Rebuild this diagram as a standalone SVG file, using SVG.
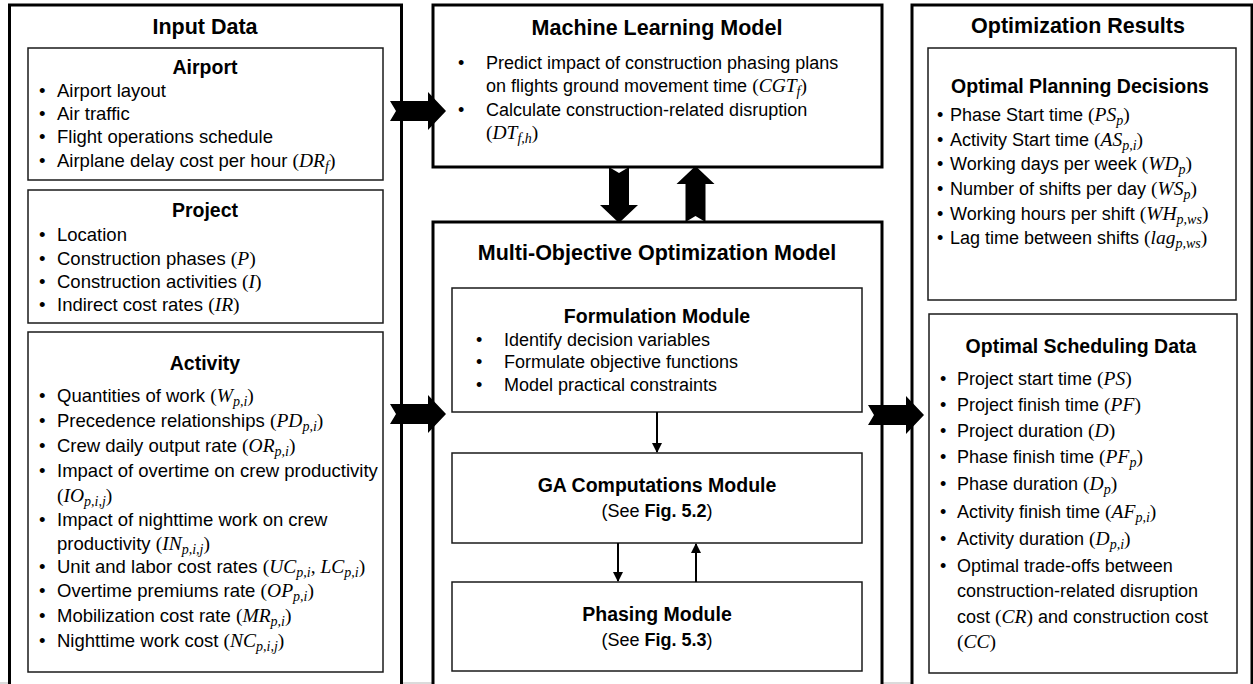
<svg xmlns="http://www.w3.org/2000/svg" width="1253" height="684" viewBox="0 0 1253 684">
  <style>
    text { font-family: "Liberation Sans", Arial, sans-serif; font-size: 18px; fill: #000; }
    .l { font-size: 18.5px; }
    .h { font-size: 21.5px; font-weight: bold; text-anchor: middle; }
    .s { font-size: 19.5px; font-weight: bold; text-anchor: middle; }
    .c { text-anchor: middle; }
    .b { font-weight: bold; }
    .m { font-family: "Liberation Serif", "Times New Roman", serif; font-style: italic; font-size: 19.5px; }
    .p { font-family: "Liberation Serif", "Times New Roman", serif; font-size: 19.5px; }
    .sb { font-family: "Liberation Serif", "Times New Roman", serif; font-style: italic; font-size: 14px; }
    .outer { fill: #fff; stroke: #000; stroke-width: 3; }
    .inner { fill: #fff; stroke: #1a1a1a; stroke-width: 1.5; }
    .thin { stroke: #000; stroke-width: 2; fill: none; marker-end: url(#tip); }
    .blk { fill: #000; }
  </style>
  <defs>
    <marker id="tip" viewBox="0 0 10 10" refX="9" refY="5" markerWidth="6" markerHeight="5" orient="auto" markerUnits="strokeWidth">
      <path d="M0,0 L10,5 L0,10 Z" fill="#000"/>
    </marker>
    <!-- block arrow pointing right, tail at origin -->
    <path id="bigArrow" d="M0,-10 L38,-10 L38,-19 L56,0 L38,19 L38,10 L0,10 L6,0 Z"/>
  </defs>

  <rect width="1253" height="684" fill="#fff"/>
  <line x1="0" y1="683" x2="1253" y2="683" stroke="#cfcfcf" stroke-width="1.5"/>

  <!-- Input data column -->
  <g id="input-data">
    <rect class="outer" x="9.5" y="5" width="392" height="700"/>
    <text class="h" x="205" y="34">Input Data</text>
  </g>
  <g id="airport" class="l">
    <rect class="inner" x="28" y="48" width="355" height="132"/>
    <text class="s" x="205" y="74">Airport</text>
    <text class="l" x="39" y="97">•</text><text class="l" x="57" y="97">Airport layout</text>
    <text class="l" x="39" y="120">•</text><text class="l" x="57" y="120">Air traffic</text>
    <text class="l" x="39" y="143">•</text><text class="l" x="57" y="143">Flight operations schedule</text>
    <text class="l" x="39" y="167">•</text><text class="l" x="57" y="167">Airplane delay cost per hour <tspan class="p">(</tspan><tspan class="m">DR</tspan><tspan class="sb" dy="4">f</tspan><tspan class="p" dy="-4">)</tspan></text>
  </g>
  <g id="project">
    <rect class="inner" x="28" y="190" width="355" height="133"/>
    <text class="s" x="205" y="217">Project</text>
    <text class="l" x="39" y="241">•</text><text class="l" x="57" y="241">Location</text>
    <text class="l" x="39" y="265">•</text><text class="l" x="57" y="265">Construction phases <tspan class="p">(</tspan><tspan class="m">P</tspan><tspan class="p">)</tspan></text>
    <text class="l" x="39" y="288">•</text><text class="l" x="57" y="288">Construction activities <tspan class="p">(</tspan><tspan class="m">I</tspan><tspan class="p">)</tspan></text>
    <text class="l" x="39" y="311">•</text><text class="l" x="57" y="311">Indirect cost rates <tspan class="p">(</tspan><tspan class="m">IR</tspan><tspan class="p">)</tspan></text>
  </g>
  <g id="activity">
    <rect class="inner" x="28" y="332" width="355" height="340"/>
    <text class="s" x="205" y="370">Activity</text>
    <text class="l" x="39" y="402">•</text><text class="l" x="57" y="402">Quantities of work <tspan class="p">(</tspan><tspan class="m">W</tspan><tspan class="sb" dy="4">p,i</tspan><tspan class="p" dy="-4">)</tspan></text>
    <text class="l" x="39" y="427">•</text><text class="l" x="57" y="427">Precedence relationships <tspan class="p">(</tspan><tspan class="m">PD</tspan><tspan class="sb" dy="4">p,i</tspan><tspan class="p" dy="-4">)</tspan></text>
    <text class="l" x="39" y="452">•</text><text class="l" x="57" y="452">Crew daily output rate <tspan class="p">(</tspan><tspan class="m">OR</tspan><tspan class="sb" dy="4">p,i</tspan><tspan class="p" dy="-4">)</tspan></text>
    <text class="l" x="39" y="477">•</text><text class="l" x="57" y="477">Impact of overtime on crew productivity</text>
    <text class="l" x="57" y="502"><tspan class="p">(</tspan><tspan class="m">IO</tspan><tspan class="sb" dy="4">p,i,j</tspan><tspan class="p" dy="-4">)</tspan></text>
    <text class="l" x="39" y="526">•</text><text class="l" x="57" y="526">Impact of nighttime work on crew</text>
    <text class="l" x="57" y="550">productivity <tspan class="p">(</tspan><tspan class="m">IN</tspan><tspan class="sb" dy="4">p,i,j</tspan><tspan class="p" dy="-4">)</tspan></text>
    <text class="l" x="39" y="573">•</text><text class="l" x="57" y="573">Unit and labor cost rates <tspan class="p">(</tspan><tspan class="m">UC</tspan><tspan class="sb" dy="4">p,i</tspan><tspan class="p" dy="-4">, </tspan><tspan class="m">LC</tspan><tspan class="sb" dy="4">p,i</tspan><tspan class="p" dy="-4">)</tspan></text>
    <text class="l" x="39" y="597">•</text><text class="l" x="57" y="597">Overtime premiums rate <tspan class="p">(</tspan><tspan class="m">OP</tspan><tspan class="sb" dy="4">p,i</tspan><tspan class="p" dy="-4">)</tspan></text>
    <text class="l" x="39" y="622">•</text><text class="l" x="57" y="622">Mobilization cost rate <tspan class="p">(</tspan><tspan class="m">MR</tspan><tspan class="sb" dy="4">p,i</tspan><tspan class="p" dy="-4">)</tspan></text>
    <text class="l" x="39" y="647">•</text><text class="l" x="57" y="647">Nighttime work cost <tspan class="p">(</tspan><tspan class="m">NC</tspan><tspan class="sb" dy="4">p,i,j</tspan><tspan class="p" dy="-4">)</tspan></text>
  </g>

  <!-- Machine learning model -->
  <g id="ml-model">
    <rect class="outer" x="433" y="5" width="449" height="162"/>
    <text class="h" x="657" y="35">Machine Learning Model</text>
    <text x="458" y="69">•</text><text x="486" y="69">Predict impact of construction phasing plans</text>
    <text x="486" y="92">on flights ground movement time <tspan class="p">(</tspan><tspan class="m">CGT</tspan><tspan class="sb" dy="4">f</tspan><tspan class="p" dy="-4">)</tspan></text>
    <text x="458" y="116">•</text><text x="486" y="116">Calculate construction-related disruption</text>
    <text x="486" y="139"><tspan class="p">(</tspan><tspan class="m">DT</tspan><tspan class="sb" dy="4">f,h</tspan><tspan class="p" dy="-4">)</tspan></text>
  </g>

  <!-- Multi-objective optimization model and its modules -->
  <g id="moo-model">
    <rect class="outer" x="433" y="222" width="449" height="480"/>
    <text class="h" x="657" y="260">Multi-Objective Optimization Model</text>
  </g>
  <g id="formulation-module">
    <rect class="inner" x="452" y="288" width="410" height="124"/>
    <text class="s" x="657" y="323">Formulation Module</text>
    <text x="476" y="346">•</text><text x="504" y="346">Identify decision variables</text>
    <text x="476" y="368">•</text><text x="504" y="368">Formulate objective functions</text>
    <text x="476" y="391">•</text><text x="504" y="391">Model practical constraints</text>
  </g>
  <g id="ga-module">
    <rect class="inner" x="452" y="453" width="410" height="90"/>
    <text class="s" x="657" y="492">GA Computations Module</text>
    <text class="c" x="657" y="517">(See <tspan class="b">Fig. 5.2</tspan>)</text>
  </g>
  <g id="phasing-module">
    <rect class="inner" x="452" y="582" width="410" height="89"/>
    <text class="s" x="657" y="621">Phasing Module</text>
    <text class="c" x="657" y="646">(See <tspan class="b">Fig. 5.3</tspan>)</text>
  </g>

  <!-- Optimization results column -->
  <g id="optimization-results">
    <rect class="outer" x="912" y="5" width="340" height="700"/>
    <text class="h" x="1078" y="33">Optimization Results</text>
  </g>
  <g id="planning-decisions">
    <rect class="inner" x="928" y="48" width="308" height="252"/>
    <text class="s" x="1080" y="93">Optimal Planning Decisions</text>
    <text x="937" y="121">•</text><text x="950" y="121">Phase Start time <tspan class="p">(</tspan><tspan class="m">PS</tspan><tspan class="sb" dy="4">p</tspan><tspan class="p" dy="-4">)</tspan></text>
    <text x="937" y="146">•</text><text x="950" y="146">Activity Start time <tspan class="p">(</tspan><tspan class="m">AS</tspan><tspan class="sb" dy="4">p,i</tspan><tspan class="p" dy="-4">)</tspan></text>
    <text x="937" y="170">•</text><text x="950" y="170">Working days per week <tspan class="p">(</tspan><tspan class="m">WD</tspan><tspan class="sb" dy="4">p</tspan><tspan class="p" dy="-4">)</tspan></text>
    <text x="937" y="195">•</text><text x="950" y="195">Number of shifts per day <tspan class="p">(</tspan><tspan class="m">WS</tspan><tspan class="sb" dy="4">p</tspan><tspan class="p" dy="-4">)</tspan></text>
    <text x="937" y="220">•</text><text x="950" y="220">Working hours per shift <tspan class="p">(</tspan><tspan class="m">WH</tspan><tspan class="sb" dy="4">p,ws</tspan><tspan class="p" dy="-4">)</tspan></text>
    <text x="937" y="244">•</text><text x="950" y="244">Lag time between shifts <tspan class="p">(</tspan><tspan class="m">lag</tspan><tspan class="sb" dy="4">p,ws</tspan><tspan class="p" dy="-4">)</tspan></text>
  </g>
  <g id="scheduling-data">
    <rect class="inner" x="929" y="314" width="308" height="359"/>
    <text class="s" x="1081" y="353">Optimal Scheduling Data</text>
    <text x="940" y="385">•</text><text x="957" y="385">Project start time <tspan class="p">(</tspan><tspan class="m">PS</tspan><tspan class="p">)</tspan></text>
    <text x="940" y="411">•</text><text x="957" y="411">Project finish time <tspan class="p">(</tspan><tspan class="m">PF</tspan><tspan class="p">)</tspan></text>
    <text x="940" y="437">•</text><text x="957" y="437">Project duration <tspan class="p">(</tspan><tspan class="m">D</tspan><tspan class="p">)</tspan></text>
    <text x="940" y="463">•</text><text x="957" y="463">Phase finish time <tspan class="p">(</tspan><tspan class="m">PF</tspan><tspan class="sb" dy="4">p</tspan><tspan class="p" dy="-4">)</tspan></text>
    <text x="940" y="490">•</text><text x="957" y="490">Phase duration <tspan class="p">(</tspan><tspan class="m">D</tspan><tspan class="sb" dy="4">p</tspan><tspan class="p" dy="-4">)</tspan></text>
    <text x="940" y="518">•</text><text x="957" y="518">Activity finish time <tspan class="p">(</tspan><tspan class="m">AF</tspan><tspan class="sb" dy="4">p,i</tspan><tspan class="p" dy="-4">)</tspan></text>
    <text x="940" y="545">•</text><text x="957" y="545">Activity duration <tspan class="p">(</tspan><tspan class="m">D</tspan><tspan class="sb" dy="4">p,i</tspan><tspan class="p" dy="-4">)</tspan></text>
    <text x="940" y="572">•</text><text x="957" y="572">Optimal trade-offs between</text>
    <text x="957" y="597">construction-related disruption</text>
    <text x="957" y="623">cost <tspan class="p">(</tspan><tspan class="m">CR</tspan><tspan class="p">)</tspan> and construction cost</text>
    <text x="957" y="648"><tspan class="p">(</tspan><tspan class="m">CC</tspan><tspan class="p">)</tspan></text>
  </g>

  <!-- Connectors -->
  <g id="connectors">
    <use href="#bigArrow" class="blk" transform="translate(390,111)"/>
    <use href="#bigArrow" class="blk" transform="translate(390,414)"/>
    <use href="#bigArrow" class="blk" transform="translate(868,415)"/>
    <use href="#bigArrow" class="blk" transform="translate(619,167) rotate(90)"/>
    <use href="#bigArrow" class="blk" transform="translate(695.5,222) rotate(-90)"/>
    <line class="thin" x1="657" y1="412" x2="657" y2="452"/>
    <line class="thin" x1="618" y1="543" x2="618" y2="581"/>
    <line class="thin" x1="696" y1="582" x2="696" y2="544"/>
  </g>
</svg>
